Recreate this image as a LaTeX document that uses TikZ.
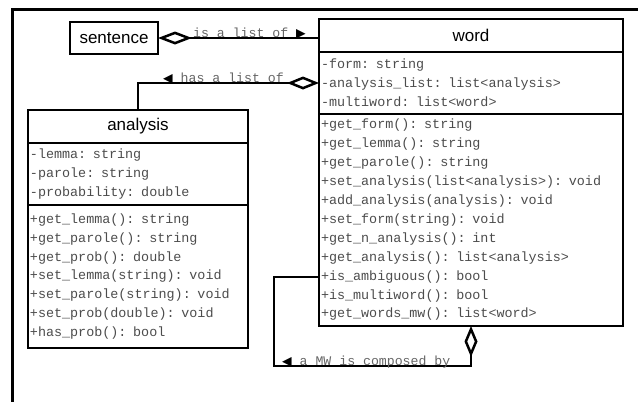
\documentclass[tikz,border=0pt]{standalone}
\usepackage{fontspec}
\newfontfamily\sansf{Liberation Sans}
\newfontfamily\monof{Liberation Mono}
\newfontfamily\symf{DejaVu Sans}
\newcommand\trifont{\color{black}\symf\fontsize{12.5}{12.5}\selectfont}
\usetikzlibrary{arrows.meta,calc}
\definecolor{txtgray}{gray}{0.3}
\definecolor{lblgray}{gray}{0.4}
\begin{document}
\begin{tikzpicture}[x=1pt,y=-1pt,
 box/.style={draw=black,line width=2pt,rectangle,inner sep=0pt,outer sep=0pt,anchor=north west},
 title/.style={box,font=\sansf\fontsize{17}{20}\selectfont},
 comp/.style={box,align=left,inner xsep=2pt,text=txtgray,font=\monof\fontsize{13.4}{18.9}\selectfont},
 conn/.style={line width=2.5pt},
 lbl/.style={anchor=base west,inner sep=0pt,text=lblgray,font=\monof\fontsize{13.2}{15}\selectfont},
 agg/.style={{Diamond[open,length=#1,width=13pt]}-}
]
\useasboundingbox (0,0) rectangle (638,402);
\draw[line width=3pt] (12,402) -- (12,9.5) -- (638,9.5);

% word
\node[title,minimum width=304pt,minimum height=33pt] (wordT) at (319,19) {word};
\node[comp,minimum width=304pt,minimum height=62pt,text width=300pt] (wordA) at (319,52)
 {-form: string\\-analysis\_list: list<analysis>\\-multiword: list<word>};
\node[comp,minimum width=304pt,minimum height=212pt,text width=300pt] (wordM) at (319,114)
 {+get\_form(): string\\+get\_lemma(): string\\+get\_parole(): string\\
  +set\_analysis(list<analysis>): void\\+add\_analysis(analysis): void\\
  +set\_form(string): void\\+get\_n\_analysis(): int\\
  +get\_analysis(): list<analysis>\\+is\_ambiguous(): bool\\
  +is\_multiword(): bool\\+get\_words\_mw(): list<word>};

% analysis
\node[title,minimum width=220pt,minimum height=33pt] (anT) at (28,110) {analysis};
\node[comp,minimum width=220pt,minimum height=62pt,text width=216pt] (anA) at (28,143)
 {-lemma: string\\-parole: string\\-probability: double};
\node[comp,minimum width=220pt,minimum height=143pt,text width=216pt] (anM) at (28,205)
 {+get\_lemma(): string\\+get\_parole(): string\\+get\_prob(): double\\
  +set\_lemma(string): void\\+set\_parole(string): void\\
  +set\_prob(double): void\\+has\_prob(): bool};

% sentence
\node[title,minimum width=88pt,minimum height=32pt] (sent) at (70,22) {sentence};

% connectors
\draw[conn,agg=34pt] (sent.east) -- (sent.east -| wordT.west);
\node[lbl] (l1) at (193,37) {is a list of {\trifont ▶}};

\draw[conn,agg=32pt] (wordA.west) -- (wordA.west -| anT.north) -- (anT.north);
\node[lbl] (l2) at (163,82) {{\trifont ◀} has a list of};

\coordinate (mwA) at (274,366);
\coordinate (mwB) at (274,277);
\draw[conn,agg=31pt] (wordM.south) -- (wordM.south |- mwA) -- (mwA) -- (mwB) -- (mwB -| wordM.west);
\node[lbl] (l3) at (282,365) {{\trifont ◀} a MW is composed by};
\end{tikzpicture}
\end{document}
